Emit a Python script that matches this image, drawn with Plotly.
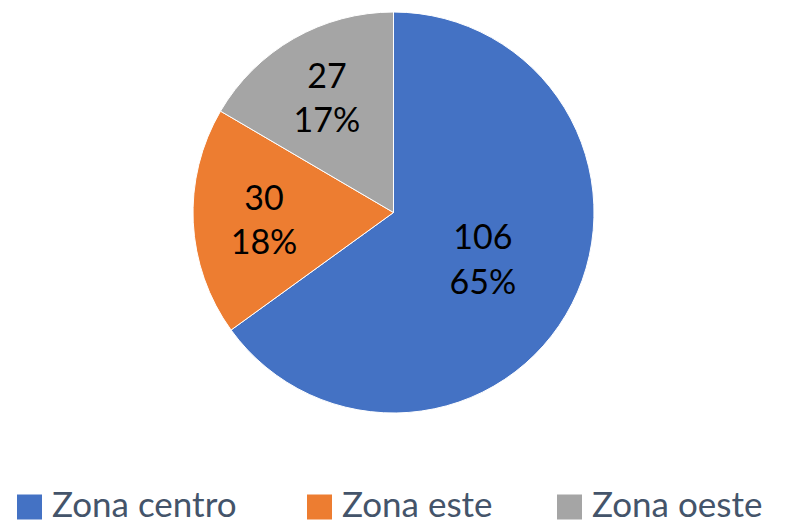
import plotly.graph_objects as go

categories = ["Zona centro", "Zona este", "Zona oeste"]
values = [106, 30, 27]
colors = ["#4472C4", "#ED7D31", "#A5A5A5"]

PAGE_W, PAGE_H = 787, 525
OFF = 8  # default body margin of the html page
W, H = PAGE_W - OFF, PAGE_H - OFF


def px(x):
    return (x - OFF) / W


def py(y):
    return (H - (y - OFF)) / H


fig = go.Figure(go.Pie(
    labels=categories,
    values=values,
    sort=False,
    direction="clockwise",
    rotation=0,
    marker=dict(colors=colors, line=dict(color="white", width=1)),
    texttemplate="%{value}<br>%{percent:.0%}",
    textposition="inside",
    insidetextorientation="horizontal",
    textfont=dict(family="Lato", size=34, color="black"),
    domain=dict(x=[px(193), px(594)], y=[py(413), py(12)]),
    showlegend=False,
    hoverinfo="label+value+percent",
))

# Manual legend (large square keys like the original)
key_left = [17, 307, 557]
key_size = 25
legend_cy = 507
shapes = []
annotations = []
for name, col, x0 in zip(categories, colors, key_left):
    shapes.append(dict(
        type="rect", xref="paper", yref="paper",
        x0=px(x0), x1=px(x0 + key_size),
        y0=py(legend_cy + key_size / 2), y1=py(legend_cy - key_size / 2),
        fillcolor=col, line=dict(width=0),
    ))
    annotations.append(dict(
        text=name, xref="paper", yref="paper",
        x=px(x0 + key_size + 8), y=py(legend_cy - 4),
        xanchor="left", yanchor="middle", showarrow=False,
        font=dict(family="Lato", size=35, color="#44546A"),
    ))

fig.update_layout(
    width=W, height=H,
    margin=dict(l=0, r=0, t=0, b=0),
    paper_bgcolor="white",
    plot_bgcolor="white",
    shapes=shapes,
    annotations=annotations,
)

fig.write_html("out.html")
